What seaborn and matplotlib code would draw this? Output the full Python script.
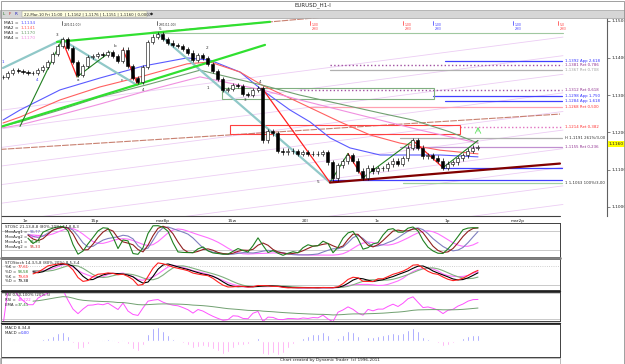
import numpy as np
import pandas as pd
import matplotlib.pyplot as plt
from matplotlib.patches import Rectangle
import seaborn as sns

sns.set_style("white")
plt.rcParams['font.family'] = ['DejaVu Sans']

# hourly closes (one every 5 px)
closes = [1.1349, 1.1359, 1.1368, 1.1365, 1.1362, 1.1359, 1.1359, 1.1368, 1.1376, 1.1389,
          1.1411, 1.1432, 1.1451, 1.1427, 1.1389, 1.1354, 1.1378, 1.1403, 1.1405, 1.1411,
          1.1408, 1.1416, 1.1405, 1.1392, 1.1422, 1.1378, 1.1346, 1.1335, 1.1376, 1.1443,
          1.1457, 1.1465, 1.1451, 1.1441, 1.1435, 1.1432, 1.1424, 1.1414, 1.1395, 1.1408,
          1.1400, 1.1384, 1.1365, 1.1343, 1.1314, 1.1316, 1.1327, 1.1324, 1.1303, 1.1300,
          1.1314, 1.1319, 1.1178, 1.1203, 1.1197, 1.1151, 1.1146, 1.1151, 1.1149, 1.1143,
          1.1146, 1.1141, 1.1143, 1.1141, 1.1146, 1.1119, 1.1076, 1.1111, 1.1122, 1.1138,
          1.1124, 1.1097, 1.1078, 1.1105, 1.1095, 1.1103, 1.1103, 1.1114, 1.1124, 1.1116,
          1.1130, 1.1159, 1.1178, 1.1159, 1.1135, 1.1138, 1.1132, 1.1124, 1.1105, 1.1116,
          1.1119, 1.1130, 1.1138, 1.1151, 1.1159, 1.1160]

# moving averages (bar, price)
ma1_bar = [0, 3.4, 11.4, 19.4, 28, 36.8, 41.4, 47.4, 51.8, 57.4, 61.4, 65.4, 69.4, 75.4, 81.4, 87.4, 95]
ma1_val = [1.1233, 1.1260, 1.1314, 1.1346, 1.1378, 1.1400, 1.1394, 1.1362, 1.1314, 1.1260, 1.1228, 1.1185,
           1.1158, 1.1139, 1.1139, 1.1139, 1.1134]
ma2_bar = [0, 3.4, 11.4, 19.4, 28, 36.8, 41.4, 47.4, 51.8, 59.4, 67.4, 73.4, 79.4, 87.4, 95]
ma2_val = [1.1225, 1.1241, 1.1287, 1.1322, 1.1351, 1.1384, 1.1389, 1.1362, 1.1327, 1.1279, 1.1228, 1.1193,
           1.1171, 1.1152, 1.1142]
ma3_bar = [0, 3.4, 11.4, 19.4, 29.4, 39.4, 51.8, 59.4, 67.4, 75.4, 82, 89.4, 95]
ma3_val = [1.1217, 1.1228, 1.1260, 1.1295, 1.1330, 1.1367, 1.1327, 1.1300, 1.1276, 1.1252, 1.1233, 1.1201, 1.1171]
ma4_bar = [0, 3.4, 11.4, 19.4, 29.4, 39.4, 51.8, 59.4, 67.4, 75.4, 83.4, 95]
ma4_val = [1.1212, 1.1220, 1.1247, 1.1276, 1.1314, 1.1349, 1.1314, 1.1287, 1.1260, 1.1233, 1.1206, 1.1171]

ma_names = ["MA1", "MA2", "MA3", "MA4"]
ma_values = ["1,1134", "1,1141", "1,1170", "1,1170"]
ma_colors = ["#5a5aff", "#ff6060", "#70a070", "#f090e0"]

price_ticks = [1.10, 1.11, 1.12, 1.13, 1.14, 1.15]
date_pos = [4.4, 18.4, 32, 45.8, 60.4, 74.8, 88.8, 103]
date_labels = ["1e", "15p", "mar8p", "15w", "20l", "1c", "1p", "mar2p"]

# trend lines: (bar0, price0, bar1, price1)
green_channel = [(10.8, 1.1443, 53.4, 1.1497), (-0.6, 1.1214, 52.4, 1.1435)]
teal_swings = [(0, 1.1373, 11.8, 1.1449), (11.8, 1.1449, 26.8, 1.1327), (30.8, 1.1468, 65.4, 1.1065)]
red_swings = [(11.8, 1.1449, 14.8, 1.1349), (24, 1.1422, 26.8, 1.1332), (51.8, 1.1319, 65.4, 1.1065),
              (69, 1.1143, 72, 1.1078), (82, 1.1178, 88, 1.1105)]
green_swings = [(3.4, 1.1216, 11.8, 1.1449), (14.8, 1.1349, 21.4, 1.1416), (65.4, 1.1065, 69, 1.1143),
                (72, 1.1078, 82, 1.1178), (88, 1.1105, 95, 1.1178)]
maroon_line = (65.4, 1.1065, 111.4, 1.1116)
brown_lines = [(-0.6, 1.1154, 111.4, 1.1249), (29.4, 1.1468, 69.4, 1.1516)]
fan_starts = [1.0760, 1.0810, 1.0860, 1.0910, 1.0960, 1.1010, 1.1060, 1.1110, 1.1160, 1.1210, 1.1260]
fan_slope = 0.000175

level_prices = [1.1392, 1.1381, 1.1367, 1.1314, 1.1298, 1.1284, 1.1268, 1.1214, 1.1185, 1.1160, 1.1105, 1.1072, 1.1064]
level_starts = [88.4, 65.4, 65.4, 59.4, 86, 88.4, 61.4, 91.4, 79.4, 79.4, 88, 65, 80]
level_colors = ["#4040ff", "#a050a0", "#b0b0b0", "#a050a0", "#4040ff", "#4040ff", "#ffa0b0",
                "#e070c0", "#b0b0b0", "#c090d0", "#4040ff", "#4040ff", "#a0d0a0"]
level_styles = ["-", ":", "-", ":", "-", "-", "-", ":", "-", "-", "-", "-", "-"]
level_labels = ["1,1392 App 2,618", "1,1381 Ret 0,786", "1,1367 Ret 0,708", "1,1312 Ret 0,618",
                "1,1298 App 1,750", "1,1284 App 1,618", "1,1268 Ret 0,500", "1,1214 Ret 0,382",
                "H 1,1191 261%/3,00", "1,1155 Ret 0,236", "", "", "1 1,1063 100%/3,00"]
label_colors = ["#3030ff", "#903090", "#a0a0a0", "#903090", "#3030ff", "#3030ff", "#ff3030",
                "#ff3030", "#303030", "#903090", "", "", "#303030"]

boxes = [(43.8, 1.1290, 86.2, 1.1320, "#80b080"), (45.4, 1.1196, 91.4, 1.1220, "#ff4040")]

marker_bars = [11.8, 30.8, 61.4, 80, 86, 102, 111]
marker_colors = ["#303030", "#303030", "#ff3030", "#ff3030", "#3030ff", "#3030ff", "#ff3030"]
marker_text = ["28/1(11:00)", "29/1(11:00)", "1,00\n29/3", "1,00\n29/3", "1,00\n29/3", "1,00\n29/3", "5,0\n29/3"]

swing_letters = ["1", "4", "3", "a", "b", "c", "4", "5", "2", "1", "3", "4", "5"]
swing_bars = [0, 6.8, 10.8, 15, 22.4, 23.8, 28, 31.4, 40.8, 41, 48.4, 51.4, 63]
swing_prices = [1.1389, 1.1341, 1.1462, 1.1340, 1.1432, 1.1340, 1.1314, 1.1478, 1.1427, 1.1319, 1.1286, 1.1335, 1.1066]
swing_colors = ["#4040ff", "#4040ff", "#303030", "#303030", "#303030", "#303030", "#303030",
                "#303030", "#303030", "#303030", "#303030", "#303030", "#303030"]

# ---------------- data frame & indicators
bars = np.arange(len(closes))
df = pd.DataFrame({"bar": bars, "close": closes})
df["open"] = df["close"].shift(1).fillna(df["close"].iloc[0])
df["high"] = df[["open", "close"]].max(axis=1) + 0.0006
df["low"] = df[["open", "close"]].min(axis=1) - 0.0006
c = df["close"]


def stoch(n, k):
    ll = df["low"].rolling(n, min_periods=1).min()
    hh = df["high"].rolling(n, min_periods=1).max()
    return (100 * (c - ll) / (hh - ll)).rolling(k, min_periods=1).mean()


sto_green = stoch(5, 2)
sto_red = sto_green.rolling(3, min_periods=1).mean()
sto_blue = stoch(9, 3).rolling(3, min_periods=1).mean()
sto_pink = stoch(14, 4).rolling(5, min_periods=1).mean()

k_red = stoch(16, 3)
k_black = k_red.rolling(3, min_periods=1).mean()
k_green = k_black.rolling(5, min_periods=1).mean()
k_pink = stoch(24, 6)

delta = c.diff().fillna(0)
gain = delta.clip(lower=0).ewm(alpha=1 / 6).mean()
loss = (-delta.clip(upper=0)).ewm(alpha=1 / 6).mean()
rsi = 100 - 100 / (1 + gain / loss.replace(0, 1e-9))
rsi_ema = rsi.ewm(span=40).mean()

macd = c.ewm(span=5).mean() - c.ewm(span=20).mean()
hist = macd - macd.ewm(span=5).mean()

# ---------------- figure
fig = plt.figure(figsize=(6.25, 3.64), dpi=100)


def box(l, t, r, b):
    return [l / 625, 1 - b / 364, (r - l) / 625, (b - t) / 364]


ax = fig.add_axes(box(1, 18, 607, 216))
ax.set_xlim(-0.4, 120.8)
ax.set_ylim(1.0975, 1.15073)

# pink fan and brown lines
for p0 in fan_starts:
    ax.plot([-1, 112], [p0 + fan_slope * -1, p0 + fan_slope * 112], color="#eccdf4", lw=0.6, zorder=1)
for x0, y0, x1, y1 in brown_lines:
    ax.plot([x0, x1], [y0, y1], color="#c88070", lw=0.8, dashes=(6, 1), zorder=2)
ax.plot([30, 112], [1.1468, 1.1468], color="#a0c8a0", lw=0.8, zorder=2)

# levels
for p, s, col, ls, lab, lc in zip(level_prices, level_starts, level_colors, level_styles, level_labels, label_colors):
    ax.plot([s, 111.8], [p, p], color=col, lw=0.9 if ls == "-" else 1.0, ls=ls, zorder=2)
    if lab:
        ax.text(112.4, p, lab, color=lc, fontsize=2.8, va="center", ha="left")

for x0, y0, x1, y1, col in boxes:
    ax.add_patch(Rectangle((x0, y0), x1 - x0, y1 - y0, fill=False, edgecolor=col, lw=0.8, zorder=2))

# moving averages
ma_bars = [ma1_bar, ma2_bar, ma3_bar, ma4_bar]
ma_vals = [ma1_val, ma2_val, ma3_val, ma4_val]
for mb, mv, col in zip(ma_bars, ma_vals, ma_colors):
    sns.lineplot(x=mb, y=mv, ax=ax, color=col, lw=0.8, zorder=3)

# trend lines
for x0, y0, x1, y1 in green_channel:
    ax.plot([x0, x1], [y0, y1], color="#30e030", lw=1.6, zorder=6)
for x0, y0, x1, y1 in teal_swings:
    ax.plot([x0, x1], [y0, y1], color="#90c8c8", lw=1.6, zorder=3)
for x0, y0, x1, y1 in red_swings:
    ax.plot([x0, x1], [y0, y1], color="#ff2020", lw=0.9, zorder=6)
for x0, y0, x1, y1 in green_swings:
    ax.plot([x0, x1], [y0, y1], color="#208020", lw=0.8, zorder=6)
x0, y0, x1, y1 = maroon_line
ax.plot([x0, x1], [y0, y1], color="#800000", lw=1.6, zorder=6)
ax.annotate("", xy=(95, 1.1222), xytext=(95, 1.1195),
            arrowprops=dict(arrowstyle="->", color="#60e060", lw=0.6))

# candles
up = df["close"] >= df["open"]
ax.vlines(df["bar"], df["low"], df["high"], color="black", lw=0.5, zorder=7)
ax.bar(df["bar"][up], (df["close"] - df["open"])[up], bottom=df["open"][up], width=0.6,
       color="white", edgecolor="black", lw=0.4, zorder=8)
ax.bar(df["bar"][~up], (df["close"] - df["open"])[~up], bottom=df["open"][~up], width=0.6,
       color="black", edgecolor="black", lw=0.4, zorder=8)

for t, b, p, col in zip(swing_letters, swing_bars, swing_prices, swing_colors):
    ax.text(b, p, t, fontsize=3, color=col, ha="center", va="center", zorder=9)

for b, col, t in zip(marker_bars, marker_colors, marker_text):
    ax.plot([b, b], [1.1500, 1.1488], color=col, lw=0.5)
    ax.text(b + 0.3, 1.1493, t, fontsize=2.2, color=col, ha="left", va="top", linespacing=0.9)

# MA legend
for i, (n, v, col) in enumerate(zip(ma_names, ma_values, ma_colors)):
    ax.text(0.005, 0.985 - i * 0.026, n + " =", transform=ax.transAxes, fontsize=3.2, va="top")
    ax.text(0.033, 0.985 - i * 0.026, v, transform=ax.transAxes, fontsize=3.2, va="top", color=col)

# axes styling
for s in ["top", "left", "bottom"]:
    ax.spines[s].set_visible(False)
ax.spines["right"].set_color("#606060")
ax.spines["right"].set_linewidth(0.8)
ax.yaxis.tick_right()
ax.set_yticks(price_ticks)
ax.set_yticklabels([f"{p:.4f}".replace(".", ",") for p in price_ticks])
ax.tick_params(axis="y", labelsize=3.2, length=2, pad=1, width=0.4)
ax.set_xticks(date_pos)
ax.set_xticklabels(date_labels)
ax.tick_params(axis="x", labelsize=3.2, length=1.5, pad=0.5, width=0.4)
ax.set_xlabel("")
ax.set_ylabel("")
ax.plot([0, (560 - 1) / 606], [0, 0], transform=ax.transAxes, color="#404040", lw=0.8, clip_on=False)
ax.text(1.003, 1.1169, "1,1160", transform=ax.get_yaxis_transform(), fontsize=3.2, va="center",
        bbox=dict(boxstyle="square,pad=0.15", fc="#ffff00", ec="none"))

# ---------------- sub panels
sub_boxes = [(223, 257), (259, 290), (292, 321), (324, 357)]
subs = [fig.add_axes(box(1, t, 560, b)) for t, b in sub_boxes]
for a in subs:
    a.set_xlim(-0.4, 111.4)
    a.set_xticks([])
    a.set_yticks([])
    for s in a.spines.values():
        s.set_color("#404040")
        s.set_linewidth(0.7)

a1, a2, a3, a4 = subs
a1.set_ylim(-2, 104)
a1.axhline(80, color="#c0c0c0", lw=0.6)
a1.axhline(20, color="#c0c0c0", lw=0.6)
st = df["bar"] >= 5
for ser, col in [(sto_pink, "#ff70ff"), (sto_blue, "#8080c0"), (sto_red, "#902020"), (sto_green, "#208020")]:
    sns.lineplot(x=df["bar"][st], y=ser[st], ax=a1, color=col, lw=0.8)
a1.text(0.008, 0.93, "STOSC 21,13,8,8 (80%-20%) 14,8,8,3", transform=a1.transAxes, fontsize=2.8, va="top")
for i, (n, v, col) in enumerate([("MovAvg1", "96,77", "#6060c0"), ("MovAvg2", "61,92", "#ff40ff"),
                                 ("MovAvg1", "95,33", "#208020"), ("MovAvg2", "95,33", "#c02020")]):
    a1.text(0.008, 0.78 - i * 0.14, n + " =", transform=a1.transAxes, fontsize=2.8, va="top")
    a1.text(0.052, 0.78 - i * 0.14, v, transform=a1.transAxes, fontsize=2.8, va="top", color=col)

a2.set_ylim(-5, 110)
a2.axhline(85, color="#c0c0c0", lw=0.6, ls=":")
a2.axhline(15, color="#c0c0c0", lw=0.6)
st = df["bar"] >= 6
for ser, col in [(k_pink, "#ff70ff"), (k_green, "#80b080"), (k_black, "black"), (k_red, "#ff2020")]:
    sns.lineplot(x=df["bar"][st], y=ser[st], ax=a2, color=col, lw=0.8)
a2.text(0.008, 0.95, "STOStoch 14,3,5,8 (80%-20%) 8,5,3,4", transform=a2.transAxes, fontsize=2.8, va="top")
for i, (n, v, col) in enumerate([("%K", "77,61", "#ff2020"), ("%D", "58,58", "#208020"),
                                 ("%K", "79,69", "#ff2020"), ("%D", "79,38", "black")]):
    a2.text(0.008, 0.8 - i * 0.15, n + " =", transform=a2.transAxes, fontsize=2.8, va="top")
    a2.text(0.03, 0.8 - i * 0.15, v, transform=a2.transAxes, fontsize=2.8, va="top", color=col)

a3.set_ylim(12, 92)
a3.axhline(88, color="#c0c0c0", lw=0.6)
a3.axhline(18, color="#c0c0c0", lw=0.6)
sns.lineplot(x=df["bar"], y=rsi, ax=a3, color="#ff50ff", lw=0.7)
st = df["bar"] >= 6
sns.lineplot(x=df["bar"][st], y=rsi_ema[st], ax=a3, color="#70a070", lw=0.7)
a3.text(0.008, 0.97, "RSI 0,50,100% (20%-5)", transform=a3.transAxes, fontsize=2.8, va="top")
a3.text(0.008, 0.80, "RSI =", transform=a3.transAxes, fontsize=2.8, va="top")
a3.text(0.03, 0.80, "48,222", transform=a3.transAxes, fontsize=2.8, va="top", color="#ff40ff")
a3.text(0.008, 0.63, "EMA =", transform=a3.transAxes, fontsize=2.8, va="top")
a3.text(0.03, 0.63, "37,41", transform=a3.transAxes, fontsize=2.8, va="top", color="#208020")

lim = hist.abs().max() * 1.15
a4.set_ylim(-lim, lim)
pos = hist >= 0
a4.bar(df["bar"][pos], hist[pos], width=0.35, color="#8080ff")
a4.bar(df["bar"][~pos], hist[~pos], width=0.35, color="#ff90f0")
a4.text(0.008, 0.95, "MACD 8,34,8", transform=a4.transAxes, fontsize=2.8, va="top")
a4.text(0.008, 0.80, "MACD =", transform=a4.transAxes, fontsize=2.8, va="top")
a4.text(0.035, 0.80, "0,00", transform=a4.transAxes, fontsize=2.8, va="top", color="#3030ff")

for a in subs:
    a.set_xlabel("")
    a.set_ylabel("")

# separators
for yy, col, lw in [(258, "#808080", 2.0), (291, "#202020", 1.0), (322.5, "#202020", 1.0)]:
    fig.add_artist(plt.Line2D([1 / 625, 560 / 625], [1 - yy / 364] * 2, color=col, lw=lw))

# ---------------- header & footer
fig.add_artist(Rectangle((0, 1 - 17.5 / 364), 1, 7 / 364, transform=fig.transFigure,
                         fc="#d6d6d6", ec="#a0a0a0", lw=0.5))
fig.add_artist(Rectangle((22 / 625, 1 - 17 / 364), 125 / 625, 6 / 364, transform=fig.transFigure,
                         fc="#ffffe0", ec="#909090", lw=0.3))
fig.text(0.5, 1 - 5.5 / 364, "EURUSD_H1-I", ha="center", va="center", fontsize=4)
fig.text(3 / 625, 1 - 14 / 364, "L", fontsize=3, color="#207020", va="center")
fig.text(9 / 625, 1 - 14 / 364, "F", fontsize=3, color="#c02020", va="center")
fig.text(15 / 625, 1 - 14 / 364, "R", fontsize=3, color="#2020c0", va="center")
fig.text(24 / 625, 1 - 14 / 364, "22-Mar-10 Fri 11:00  | 1,1162 | 1,1176 | 1,1151 | 1,1160 | 0,0007",
         fontsize=2.8, va="center")
fig.text(152 / 625, 1 - 14 / 364, "\u25c6", fontsize=3, va="center", ha="center")
fig.add_artist(Rectangle((0, 1 - 364 / 364 + 0.5 / 364), 560 / 625, 6 / 364, transform=fig.transFigure,
                         fc="white", ec="#a0a0a0", lw=0.5))
fig.text(330 / 625, 1 - 360.5 / 364, "Chart created by Dynamic Trader  (c) 1996-2011",
         fontsize=3, ha="center", va="center")
fig.add_artist(Rectangle((0.5 / 625, 0.5 / 364), 623.5 / 625, 363 / 364, transform=fig.transFigure,
                         fill=False, ec="#909090", lw=0.6))

fig.savefig("out.png", dpi=100)
